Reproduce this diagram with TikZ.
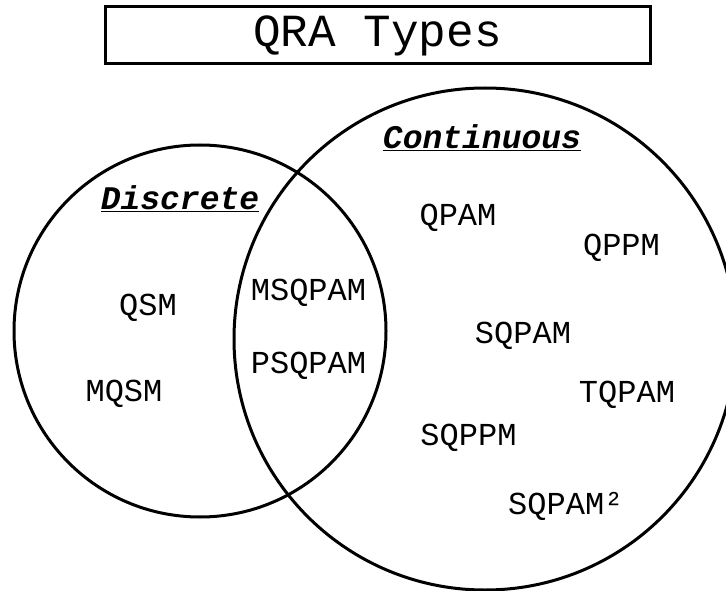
\documentclass[tikz,border=0pt]{standalone}
\usepackage{fontspec}
\setmonofont{Liberation Mono}
\tikzset{
  setcircle/.style={line width=3pt,black},
  typelabel/.style={font=\ttfamily\fontsize{32}{36}\selectfont,inner sep=0pt},
  setlabel/.style={font=\ttfamily\bfseries\itshape\fontsize{33}{38}\selectfont,inner sep=0pt},
  titlebox/.style={draw,line width=3pt,font=\ttfamily\fontsize{46}{50}\selectfont,minimum width=545pt,minimum height=57pt,inner sep=0pt}
}
\begin{document}
\begin{tikzpicture}[x=1pt,y=1pt,yscale=-1,xscale=1]
\useasboundingbox (0, 0) rectangle (726, 591);

% title
\node [titlebox] (title) at (377.5, 35.5) {QRA Types};

% sets
\draw [setcircle] (200, 331) circle (186);
\draw [setcircle] (485, 339) circle (251);

\node [setlabel] (discrete) at (180, 199) {\underline{Discrete}};
\node [setlabel] (continuous) at (482, 138) {\underline{Continuous}};

% discrete only
\node [typelabel] (qsm) at (148, 307.5) {QSM};
\node [typelabel] (mqsm) at (124, 394) {MQSM};

% both
\node [typelabel] (msqpam) at (308.5, 293) {MSQPAM};
\node [typelabel] (psqpam) at (308.5, 366) {PSQPAM};

% continuous only
\node [typelabel] (qpam) at (458, 218) {QPAM};
\node [typelabel] (qppm) at (621.5, 248) {QPPM};
\node [typelabel] (sqpam) at (523, 336) {SQPAM};
\node [typelabel] (tqpam) at (627, 395) {TQPAM};
\node [typelabel] (sqppm) at (468.5, 438) {SQPPM};
\node [typelabel,anchor=west] (sqpamsq) at (508, 506) {SQPAM²};
\end{tikzpicture}
\end{document}
